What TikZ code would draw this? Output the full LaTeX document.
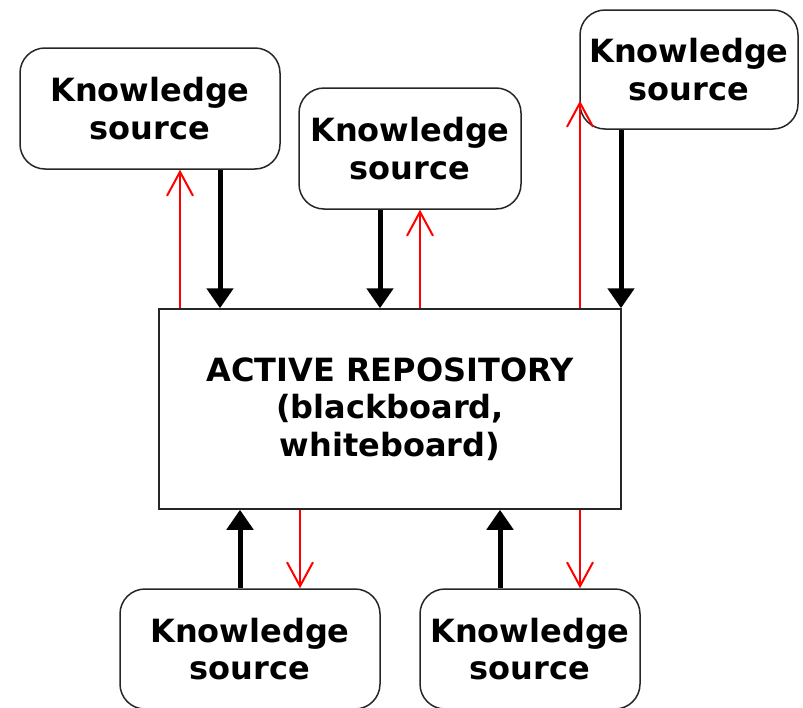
\documentclass[tikz,border=0pt]{standalone}
\usepackage{fontspec}
\setmainfont{DejaVu Sans}
\usetikzlibrary{arrows.meta,calc}
\begin{document}
\begin{tikzpicture}[x=1pt,y=-1pt,
  txt/.style={align=center,inner sep=0pt,font=\fontsize{32}{37.5}\selectfont\bfseries},
  ks/.style={txt,draw=black!85,line width=1.5pt,rounded corners=25pt},
  repo/.style={txt,draw=black!85,line width=1.5pt},
  blk/.style={line width=5pt,-{Triangle[width=26pt,length=20pt]}},
  redarr/.style={red,line width=2pt,-{Straight Barb[width=26pt,length=24pt,line width=2pt]}}]
\useasboundingbox (0,0) rectangle (803,707);
\node[repo,minimum width=462pt,minimum height=200pt] (repo) at (390,409)
  {ACTIVE REPOSITORY\\(blackboard,\\whiteboard)};
\node[ks,minimum width=260pt,minimum height=121pt] (ks1) at (150,108.5) {Knowledge\\source};
\node[ks,minimum width=222pt,minimum height=121pt] (ks2) at (410,148.5) {Knowledge\\source};
\node[ks,minimum width=218pt,minimum height=119pt] (ks3) at (689,69.5) {Knowledge\\source};
\node[ks,minimum width=260pt,minimum height=120pt] (ks4) at (250,649) {Knowledge\\source};
\node[ks,minimum width=220pt,minimum height=120pt] (ks5) at (530,649) {Knowledge\\source};
\coordinate (a1) at (180,0);
\coordinate (b1) at (220,0);
\coordinate (b2) at (380,0);
\coordinate (a2) at (420,0);
\coordinate (a3) at (580,0);
\coordinate (b3) at (621,0);
\coordinate (b4) at (240,0);
\coordinate (a4) at (300,0);
\coordinate (b5) at (500,0);
\coordinate (a5) at (580,0);
\draw[redarr] (a1 |- repo.north) -- (a1 |- ks1.south);
\draw[blk] (b1 |- ks1.south) -- (b1 |- repo.north);
\draw[blk] (b2 |- ks2.south) -- (b2 |- repo.north);
\draw[redarr] (a2 |- repo.north) -- (a2 |- ks2.south);
\draw[redarr] (a3 |- repo.north) -- ($(a3 |- ks3.south)+(0,-29)$);
\draw[blk] (b3 |- ks3.south) -- (b3 |- repo.north);
\draw[blk] (b4 |- ks4.north) -- (b4 |- repo.south);
\draw[redarr] (a4 |- repo.south) -- (a4 |- ks4.north);
\draw[blk] (b5 |- ks5.north) -- (b5 |- repo.south);
\draw[redarr] (a5 |- repo.south) -- (a5 |- ks5.north);
\end{tikzpicture}
\end{document}
